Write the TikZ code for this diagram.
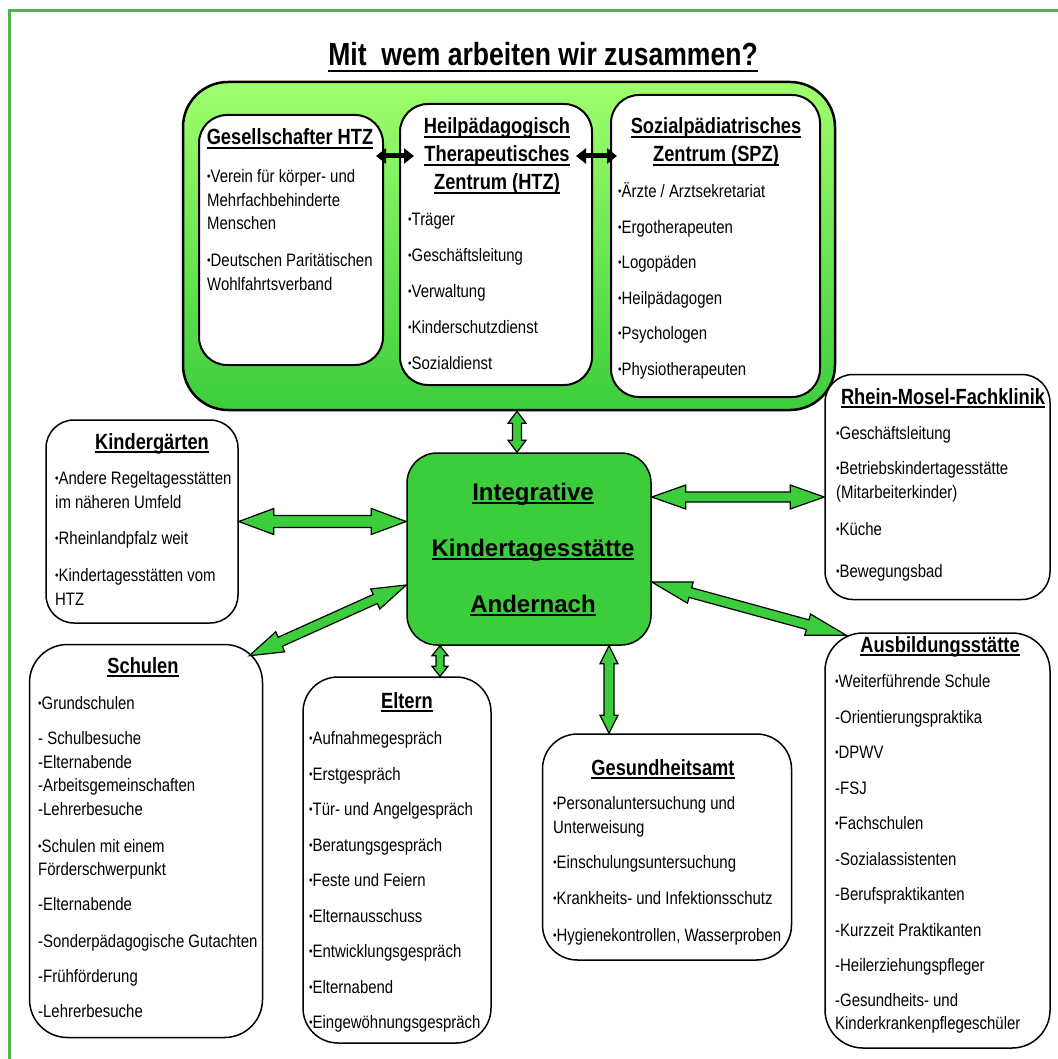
\documentclass[tikz,border=0pt]{standalone}
\usepackage{fontspec}
\setmainfont{Liberation Sans}[FakeStretch=0.83]
\newfontfamily\widefont{Liberation Sans}
\usetikzlibrary{calc}
\usetikzlibrary{arrows.meta}

\definecolor{framegreen}{RGB}{80,180,80}
\definecolor{lightgreen}{RGB}{160,255,110}
\definecolor{midgreen}{RGB}{60,205,60}

% underline with a visible rule
\newcommand{\hul}[2][1.6pt]{\leavevmode\setbox0=\hbox{#2}\rlap{\rule[-4pt]{\wd0}{#1}}\box0}
% small bullet
\newcommand{\dotb}{\raisebox{2pt}{\fontsize{12}{12}\selectfont •}}
% green double block arrow: start, end, half shaft, half head, head length
\newcommand{\dblarrow}[5]{%
 \draw[blockarrow] (#1)
  -- ($(#1)!#5!(#2)!#4!90:(#2)$) -- ($(#1)!#5!(#2)!#3!90:(#2)$)
  -- ($(#2)!#5!(#1)!#3!-90:(#1)$) -- ($(#2)!#5!(#1)!#4!-90:(#1)$)
  -- (#2)
  -- ($(#2)!#5!(#1)!#4!90:(#1)$) -- ($(#2)!#5!(#1)!#3!90:(#1)$)
  -- ($(#1)!#5!(#2)!#3!-90:(#2)$) -- ($(#1)!#5!(#2)!#4!-90:(#2)$)
  -- cycle;}

\tikzset{
 wbox/.style={draw, line width=1.5pt, fill=white, rounded corners=28pt, inner sep=0pt},
 head/.style={font=\fontsize{22}{28}\selectfont\bfseries, align=center, anchor=base, inner sep=0pt},
 items/.style={font=\fontsize{18}{23.5}\selectfont, align=left, anchor=north west, inner sep=0pt,
  execute at begin node=\strut},
 blockarrow/.style={draw=black, line width=1.2pt, fill=midgreen, line join=miter},
 blkarrow/.style={line width=5pt, {Triangle[length=10pt,width=15pt]}-{Triangle[length=10pt,width=15pt]}}
}

\begin{document}
\begin{tikzpicture}[x=1pt, y=-1pt]
 \useasboundingbox (0,0) rectangle (1057,1059);
 \draw[framegreen, line width=3pt] (9,11) rectangle (1080,1080);

 % title
 \node[font=\fontsize{32}{36}\selectfont\bfseries, anchor=base, inner sep=0pt] (title) at (543,66) {Mit\ \ wem arbeiten wir zusammen?};
 \draw[line width=2.5pt] ([yshift=-5pt]title.base west) -- ([yshift=-5pt]title.base east);

 % upper group
 \node[draw, line width=2.5pt, rounded corners=45pt, top color=lightgreen, bottom color=midgreen,
  minimum width=652pt, minimum height=328pt] (top) at (509,246) {};
 \node[wbox, line width=2pt, minimum width=184pt, minimum height=250pt] (ges) at (291,240) {};
 \node[wbox, line width=2pt, minimum width=192pt, minimum height=281pt] (htz) at (496,244.5) {};
 \node[wbox, line width=2pt, minimum width=209pt, minimum height=302pt] (spz) at (715.5,246) {};

 \node[head] (gesh) at (290,145) {\hul{Gesellschafter HTZ}};
 \node[items] (gesi) at (207,169.5) {\dotb Verein für körper- und\\Mehrfachbehinderte\\Menschen\\[13.5pt]
  \dotb Deutschen Paritätischen\\Wohlfahrtsverband};
 \node[head] (htzh) at (497,190) {\hul{Heilpädagogisch}\\\hul{Therapeutisches}\\\hul{Zentrum (HTZ)}};
 \node[items] (htzi) at (408,212.5) {\dotb Träger\\[12.5pt]\dotb Geschäftsleitung\\[12.5pt]\dotb Verwaltung\\[12.5pt]
  \dotb Kinderschutzdienst\\[12.5pt]\dotb Sozialdienst};
 \node[head] (spzh) at (716,162) {\hul{Sozialpädiatrisches}\\\hul{Zentrum (SPZ)}};
 \node[items] (spzi) at (618,182.5) {\dotb Ärzte / Arztsekretariat\\[12pt]\dotb Ergotherapeuten\\[12pt]\dotb Logopäden\\[12pt]
  \dotb Heilpädagogen\\[12pt]\dotb Psychologen\\[12pt]\dotb Physiotherapeuten};

 \draw[blkarrow, shorten <=-8pt, shorten >=-15pt] (ges.east |- 0,156) -- (htz.west |- 0,156);
 \draw[blkarrow, shorten <=-17pt, shorten >=-7pt] (htz.east |- 0,156) -- (spz.west |- 0,156);

 % centre
 \node[draw, line width=1.5pt, rounded corners=30pt, fill=midgreen, minimum width=244pt, minimum height=192pt] (ki) at (529,549) {};
 \node[font=\fontsize{24}{56}\selectfont\widefont\bfseries, align=center, anchor=base, inner sep=0pt] (kit) at (533,612)
  {\hul[1.8pt]{Integrative}\\\hul[1.8pt]{Kindertagesstätte}\\\hul[1.8pt]{Andernach}};

 % partners
 \node[wbox, minimum width=192pt, minimum height=203pt] (kita) at (142,521.5) {};
 \node[head] (kitah) at (152,449) {\hul{Kindergärten}};
 \node[items] (kitai) at (55,471.5) {\dotb Andere Regeltagesstätten\\im näheren Umfeld\\[12.5pt]\dotb Rheinlandpfalz weit\\[14pt]
  \dotb Kindertagesstätten vom\\HTZ};

 \node[wbox, minimum width=225pt, minimum height=225pt] (rmf) at (937.5,487) {};
 \node[head] (rmfh) at (943,404) {\hul{Rhein-Mosel-Fachklinik}};
 \node[items] (rmfi) at (836,426.5) {\dotb Geschäftsleitung\\[11.5pt]\dotb Betriebskindertagesstätte\\(Mitarbeiterkinder)\\[13.5pt]
  \dotb Küche\\[18.5pt]\dotb Bewegungsbad};

 \node[wbox, rounded corners=38pt, minimum width=233pt, minimum height=393pt] (sch) at (146,841) {};
 \node[head] (schh) at (143,673) {\hul{Schulen}};
 \node[items] (schi) at (38,696.5) {\dotb Grundschulen\\[11.5pt]- Schulbesuche\\-Elternabende\\-Arbeitsgemeinschaften\\-Lehrerbesuche\\[13.5pt]
  \dotb Schulen mit einem\\Förderschwerpunkt\\[11.5pt]-Elternabende\\[13.5pt]-Sonderpädagogische Gutachten\\[11.5pt]
  -Frühförderung\\[11.5pt]-Lehrerbesuche};

 \node[wbox, rounded corners=35pt, minimum width=188pt, minimum height=366pt] (elt) at (397,860) {};
 \node[head] (elth) at (407,708) {\hul{Eltern}};
 \node[items] (elti) at (309,731.5) {\dotb Aufnahmegespräch\\[12pt]\dotb Erstgespräch\\[12pt]\dotb Tür- und Angelgespräch\\[12pt]
  \dotb Beratungsgespräch\\[12pt]\dotb Feste und Feiern\\[12pt]\dotb Elternausschuss\\[12pt]\dotb Entwicklungsgespräch\\[12pt]
  \dotb Elternabend\\[12pt]\dotb Eingewöhnungsgespräch};

 \node[wbox, rounded corners=35pt, minimum width=249pt, minimum height=226pt] (gesa) at (667,847) {};
 \node[head] (gesah) at (663,775) {\hul{Gesundheitsamt}};
 \node[items] (gesai) at (553,796.5) {\dotb Personaluntersuchung und\\Unterweisung\\[11.5pt]\dotb Einschulungsuntersuchung\\[12.5pt]
  \dotb Krankheits- und Infektionsschutz\\[14pt]\dotb Hygienekontrollen, Wasserproben};

 \node[wbox, rounded corners=38pt, minimum width=225pt, minimum height=415pt] (ausb) at (937.5,840.5) {};
 \node[head] (ausbh) at (940,652) {\hul{Ausbildungsstätte}};
 \node[items] (ausbi) at (835,674.5) {\dotb Weiterführende Schule\\[12pt]-Orientierungspraktika\\[12pt]\dotb DPWV\\[12pt]-FSJ\\[12pt]
  \dotb Fachschulen\\[12pt]-Sozialassistenten\\[12pt]-Berufspraktikanten\\[12pt]-Kurzzeit Praktikanten\\[12pt]
  -Heilerziehungspfleger\\[11pt]-Gesundheits- und\\Kinderkrankenpflegeschüler};

 % connectors
 \coordinate (topB) at (top.south -| 517,0);
 \coordinate (kiT) at (ki.north -| 517,0);
 \coordinate (kiL) at (ki.west |- kita.east);
 \coordinate (kiR) at (ki.east |- 0,497);
 \coordinate (rmfL) at (rmf.west |- 0,497);
 \coordinate (kiR2) at (ki.east |- 0,582);
 \coordinate (ausbT) at ($(ausb.north west)+(22,3)$);
 \coordinate (kiL2) at (ki.west |- 0,585);
 \coordinate (schT) at ($(sch.north east)+(-14,12)$);
 \coordinate (kiB1) at (ki.south -| 440,0);
 \coordinate (eltT) at (elt.north -| 440,0);
 \coordinate (kiB2) at (ki.south -| 609,0);
 \coordinate (gesaT) at (gesa.north -| 609,0);

 \dblarrow{topB}{kiT}{4.5pt}{9pt}{12pt}
 \dblarrow{kita.east}{kiL}{6pt}{13pt}{35pt}
 \dblarrow{kiR}{rmfL}{5pt}{12pt}{34pt}
 \dblarrow{kiR2}{ausbT}{5pt}{11pt}{40pt}
 \dblarrow{kiL2}{schT}{5pt}{11pt}{34pt}
 \dblarrow{kiB1}{eltT}{4pt}{8pt}{10pt}
 \dblarrow{kiB2}{gesaT}{5pt}{9pt}{18pt}
\end{tikzpicture}
\end{document}
